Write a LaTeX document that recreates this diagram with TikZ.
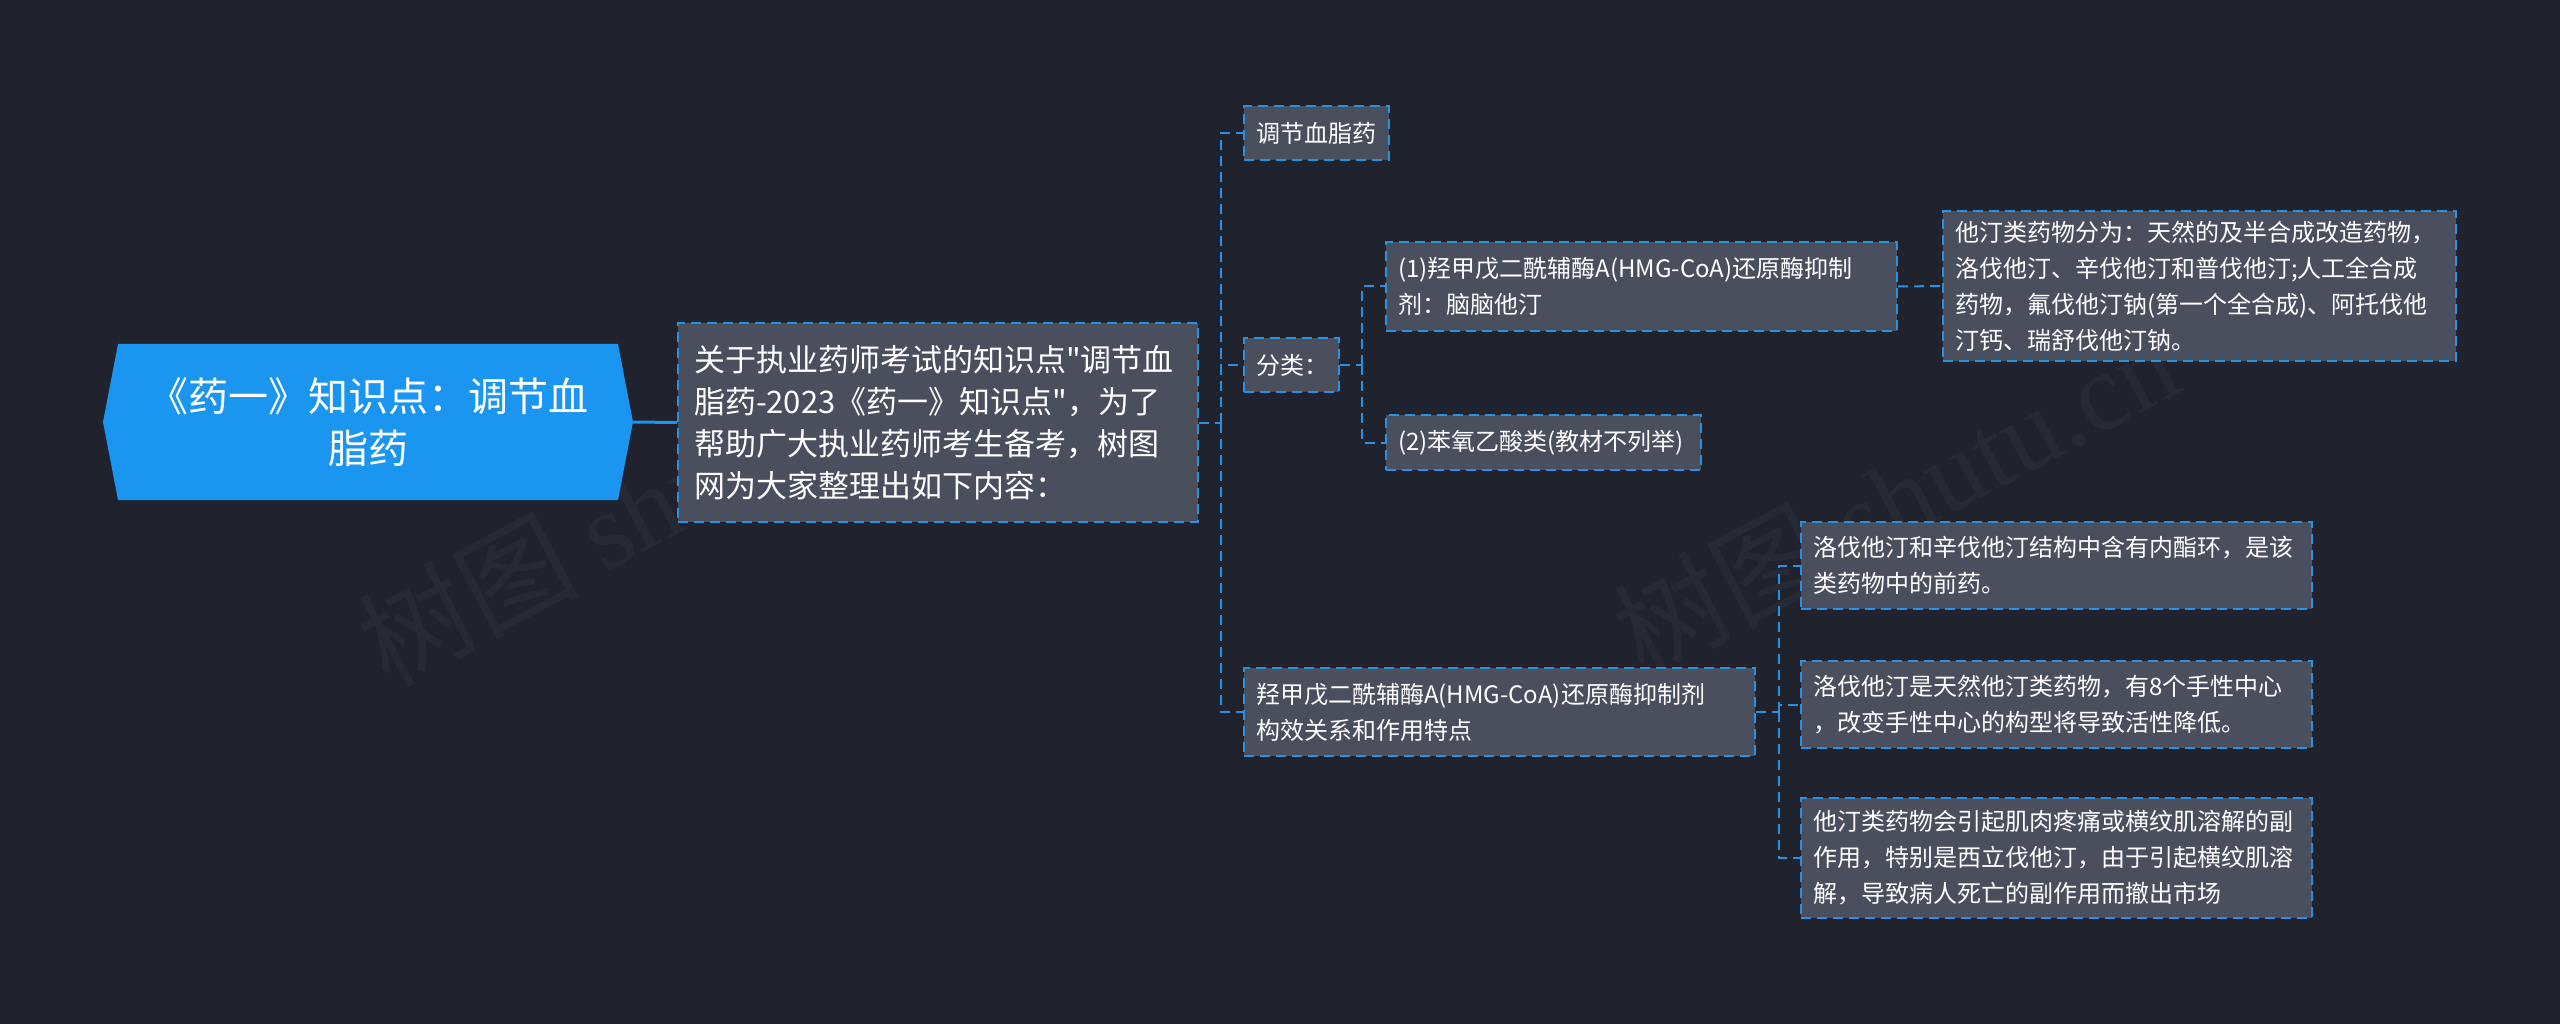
\documentclass[tikz,border=0pt]{standalone}
\usepackage{fontspec}
\setmainfont{Noto Sans CJK SC}
\newfontfamily\qf{Noto Sans CJK SC}[Ligatures=TeXOff]
\newfontfamily\wmserif{Liberation Serif}
\usetikzlibrary{calc}
\definecolor{bg}{HTML}{20232E}
\definecolor{boxfill}{HTML}{4A4F5E}
\definecolor{dashblue}{HTML}{2B90E0}
\definecolor{rootblue}{HTML}{1B96F0}
\begin{document}
\begin{tikzpicture}[x=1pt,y=-1pt,
  box/.style={draw=dashblue, fill=boxfill, line width=2pt, dash pattern=on 10pt off 6pt,
    text=white, inner xsep=12pt, inner ysep=0pt, align=left,
    font=\fontsize{24}{36}\selectfont},
  conn/.style={draw=dashblue, line width=2pt, dash pattern=on 10pt off 6pt},
  rootline/.style={draw=rootblue, line width=3pt},
  wmark/.style={text=white, opacity=0.035, font=\fontsize{110}{110}\selectfont, rotate=28, anchor=base west},
]
\useasboundingbox (0,0) rectangle (2560,1024);
\fill[bg] (0,0) rectangle (2560,1024);

% watermarks
\node[wmark] (wm1) at (385,690) {树图 {\wmserif shutu.cn}};
\node[wmark] (wm2) at (1640,680) {树图 {\wmserif shutu.cn}};

% root
\fill[rootblue] (103,422) -- (118,344) -- (618,344) -- (633,422) -- (618,500) -- (118,500) -- cycle;
\node[text=white, align=center, font=\fontsize{40}{52}\selectfont] (root) at (368,422) {《药一》知识点：调节血\\脂药};
\coordinate (rootR) at (633,422);

% description
\node[box, inner xsep=16pt, text width=488pt, minimum width=520pt, minimum height=199pt,
  font=\fontsize{31}{42}\selectfont] (desc) at (938,422.5)
  {关于执业药师考试的知识点{\qf"}调节血\\脂药-2023《药一》知识点{\qf"}，为了\\帮助广大执业药师考生备考，树图\\网为大家整理出如下内容：};

% level 2
\node[box, text width=121pt, minimum width=145pt, minimum height=54pt] (c1) at (1316.5,133) {调节血脂药};
\node[box, text width=71pt, minimum width=95pt, minimum height=54pt] (c2) at (1291.5,365) {分类：};
\node[box, text width=487pt, minimum width=511pt, minimum height=88pt] (c3) at (1499.5,712)
  {羟甲戊二酰辅酶A(HMG-CoA)还原酶抑制剂\\构效关系和作用特点};

% level 3
\node[box, text width=487pt, minimum width=511pt, minimum height=89pt] (g1) at (1641.5,286.5)
  {(1)羟甲戊二酰辅酶A(HMG-CoA)还原酶抑制\\剂：脑脑他汀};
\node[box, text width=291pt, minimum width=315pt, minimum height=55pt] (g2) at (1543.5,442.5)
  {(2)苯氧乙酸类(教材不列举)};
\node[box, text width=489pt, minimum width=513pt, minimum height=150pt] (h1) at (2199.5,286)
  {他汀类药物分为：天然的及半合成改造药物，\\洛伐他汀、辛伐他汀和普伐他汀;人工全合成\\药物，氟伐他汀钠(第一个全合成)、阿托伐他\\汀钙、瑞舒伐他汀钠。};
\node[box, text width=487pt, minimum width=511pt, minimum height=87pt] (la) at (2056.5,565.5)
  {洛伐他汀和辛伐他汀结构中含有内酯环，是该\\类药物中的前药。};
\node[box, text width=487pt, minimum width=511pt, minimum height=87pt] (lb) at (2056.5,704.5)
  {洛伐他汀是天然他汀类药物，有8个手性中心\\，改变手性中心的构型将导致活性降低。};
\node[box, text width=487pt, minimum width=511pt, minimum height=120pt] (lc) at (2056.5,858)
  {他汀类药物会引起肌肉疼痛或横纹肌溶解的副\\作用，特别是西立伐他汀，由于引起横纹肌溶\\解，导致病人死亡的副作用而撤出市场};

% connectors
\draw[rootline] (rootR) -- (desc.west);

\coordinate (t1) at (1221,422.5);
\draw[conn] (desc.east) -- (t1);
\draw[conn] (t1) |- (c1.west);
\draw[conn] (t1) |- (c2.west);
\draw[conn] (t1) |- (c3.west);

\coordinate (t2) at (1362,365);
\draw[conn] (c2.east) -- (t2);
\draw[conn] (t2) |- (g1.west);
\draw[conn] (t2) |- (g2.west);

\draw[conn] (g1.east) -- (h1.west);

\coordinate (t3) at (1779,712);
\draw[conn] (c3.east) -- (t3);
\draw[conn] (t3) |- (la.west);
\draw[conn] (t3) |- (lb.west);
\draw[conn] (t3) |- (lc.west);
\end{tikzpicture}
\end{document}
